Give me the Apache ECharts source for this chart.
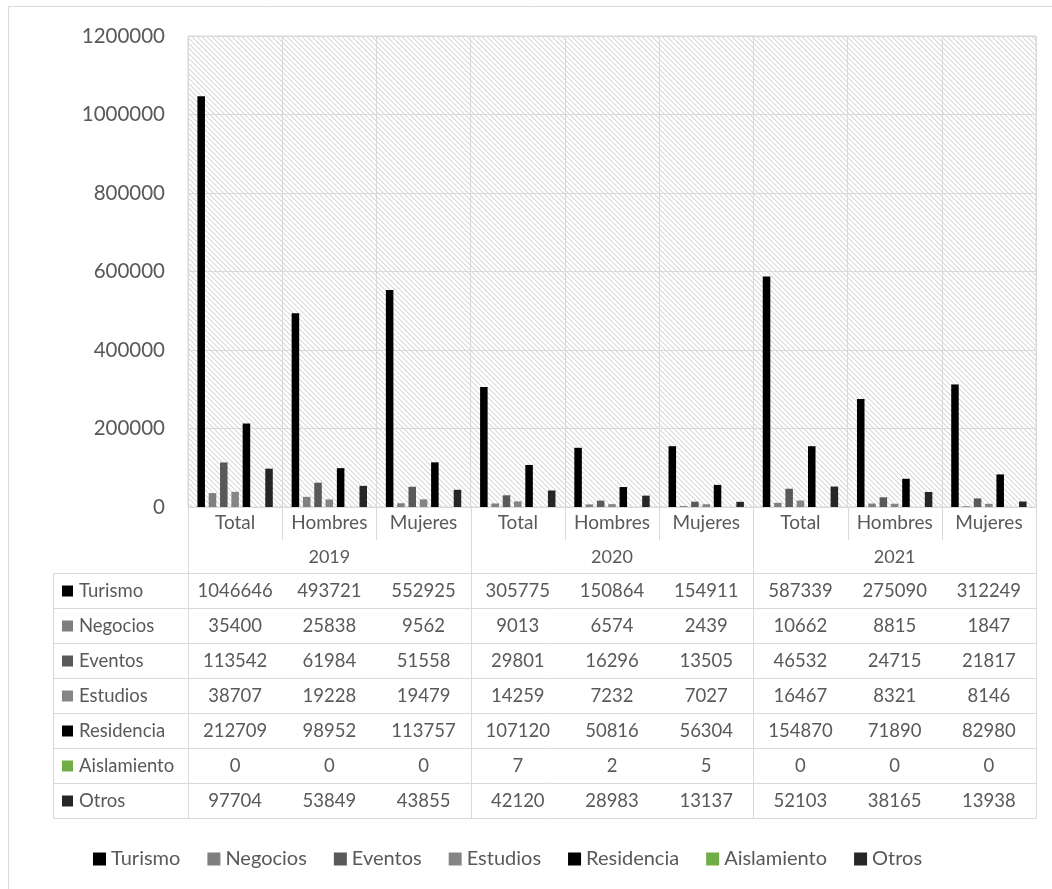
<!DOCTYPE html>
<html>
<head>
<meta charset="utf-8">
<script src="https://cdn.jsdelivr.net/npm/echarts@6/dist/echarts.min.js"></script>
<style>
html,body{margin:0;padding:0;background:#fff;}
#c{width:1052px;height:889px;}
</style>
</head>
<body>
<div id="c"></div>
<script>
const categories = ['Total','Hombres','Mujeres','Total','Hombres','Mujeres','Total','Hombres','Mujeres'];
const years = ['2019','2020','2021'];
const yTicks = [0, 200000, 400000, 600000, 800000, 1000000, 1200000];
const seriesNames = ['Turismo','Negocios','Eventos','Estudios','Residencia','Aislamiento','Otros'];
const turismo     = [1046646, 493721, 552925, 305775, 150864, 154911, 587339, 275090, 312249];
const negocios    = [35400, 25838, 9562, 9013, 6574, 2439, 10662, 8815, 1847];
const eventos     = [113542, 61984, 51558, 29801, 16296, 13505, 46532, 24715, 21817];
const estudios    = [38707, 19228, 19479, 14259, 7232, 7027, 16467, 8321, 8146];
const residencia  = [212709, 98952, 113757, 107120, 50816, 56304, 154870, 71890, 82980];
const aislamiento = [0, 0, 0, 7, 2, 5, 0, 0, 0];
const otros       = [97704, 53849, 43855, 42120, 28983, 13137, 52103, 38165, 13938];
const seriesData = [turismo, negocios, eventos, estudios, residencia, aislamiento, otros];
const colors = ['#000000','#7f7f7f','#595959','#858585','#000000','#70ad47','#262626'];

const FONT = 'Lato';
const TXT = '#595959';
const LINE = '#d9d9d9';

// hatch pattern (downward diagonal)
const pc = document.createElement('canvas');
pc.width = 5; pc.height = 5;
const pctx = pc.getContext('2d');
pctx.fillStyle = '#ffffff'; pctx.fillRect(0,0,5,5);
for (let i = 0; i < 5; i++) {
  pctx.fillStyle = '#d8d8d8'; pctx.fillRect(i, i, 1, 1);
  pctx.fillStyle = '#eeeeee'; pctx.fillRect((i + 1) % 5, i, 1, 1);
}

const chart = echarts.init(document.getElementById('c'), null, {renderer: 'canvas'});
const option = {
  animation: false,
  backgroundColor: '#ffffff',
  color: colors,
  grid: {left: 188, top: 36, width: 848, height: 471, show: true, borderColor: LINE, borderWidth: 1,
         backgroundColor: {image: pc, repeat: 'repeat'}},
  legend: {
    data: seriesNames, left: 88, top: 844, icon: 'rect', itemWidth: 13, itemHeight: 13, itemGap: 27,
    textStyle: {fontFamily: FONT, fontSize: 20, color: TXT}
  },
  xAxis: {
    type: 'category', data: categories,
    axisLine: {show: true, lineStyle: {color: LINE}},
    axisTick: {show: false},
    splitLine: {show: true, interval: 0, lineStyle: {color: LINE, width: 1}},
    axisLabel: {fontFamily: FONT, fontSize: 19, color: TXT, margin: 6, interval: 0}
  },
  yAxis: {
    type: 'value', min: yTicks[0], max: yTicks[yTicks.length - 1], interval: yTicks[1] - yTicks[0],
    axisLine: {show: false}, axisTick: {show: false},
    splitLine: {lineStyle: {color: LINE, width: 1}},
    axisLabel: {fontFamily: FONT, fontSize: 20.5, color: TXT, margin: 23, formatter: v => String(v)}
  },
  series: seriesNames.map((n, i) => ({
    name: n, type: 'bar', data: seriesData[i], barGap: '50%', barCategoryGap: '20%',
    itemStyle: {color: colors[i]}
  }))
};
chart.setOption(option);

function buildTable() {
  const c0 = chart.convertToPixel({xAxisIndex: 0}, 0);
  const c1 = chart.convertToPixel({xAxisIndex: 0}, 1);
  const cw = c1 - c0;
  const y0 = chart.convertToPixel({yAxisIndex: 0}, 0);
  const catRowH = 33, yearRowH = 33, rowH = 35;
  const tTop = y0 + catRowH + yearRowH;
  const tBottom = tTop + rowH * seriesNames.length;
  const tLeft = 53;
  const bounds = [];
  for (let k = 0; k <= categories.length; k++) bounds.push(c0 - cw / 2 + k * cw);
  const g = [];
  const ls = {stroke: LINE, lineWidth: 1};
  g.push({type: 'line', shape: {x1: 8.5, y1: 6.5, x2: 1052, y2: 6.5}, style: ls, silent: true});
  g.push({type: 'line', shape: {x1: 8.5, y1: 6.5, x2: 8.5, y2: 889}, style: ls, silent: true});
  bounds.forEach((bx, k) => {
    const x = Math.round(bx) + 0.5;
    const yEnd = (k % 3 === 0) ? tBottom : y0 + catRowH;
    g.push({type: 'line', shape: {x1: x, y1: y0, x2: x, y2: yEnd}, style: ls, silent: true});
  });
  g.push({type: 'line', shape: {x1: tLeft + 0.5, y1: tTop, x2: tLeft + 0.5, y2: tBottom}, style: ls, silent: true});
  for (let r = 0; r <= seriesNames.length; r++) {
    const y = Math.round(tTop + r * rowH) + 0.5;
    g.push({type: 'line', shape: {x1: tLeft, y1: y, x2: bounds[bounds.length - 1] + 0.5, y2: y}, style: ls, silent: true});
  }
  years.forEach((yr, i) => {
    const cx = (bounds[i * 3] + bounds[i * 3 + 3]) / 2;
    g.push({type: 'text', x: cx, y: y0 + catRowH + yearRowH / 2 + 1,
      style: {text: yr, fill: TXT, font: '18px ' + FONT, textAlign: 'center', textVerticalAlign: 'middle'}, silent: true});
  });
  seriesNames.forEach((n, r) => {
    const cy = tTop + r * rowH + rowH / 2 + 1;
    g.push({type: 'rect', shape: {x: 62, y: cy - 6, width: 11, height: 11}, style: {fill: colors[r]}, silent: true});
    g.push({type: 'text', x: 79, y: cy,
      style: {text: n, fill: TXT, font: '18.5px ' + FONT, textAlign: 'left', textVerticalAlign: 'middle'}, silent: true});
    seriesData[r].forEach((v, i) => {
      const cx = (bounds[i] + bounds[i + 1]) / 2;
      g.push({type: 'text', x: cx, y: cy,
        style: {text: String(v), fill: TXT, font: '18.5px ' + FONT, textAlign: 'center', textVerticalAlign: 'middle'}, silent: true});
    });
  });
  chart.setOption({graphic: {elements: g}});
}
buildTable();
</script>
</body>
</html>
